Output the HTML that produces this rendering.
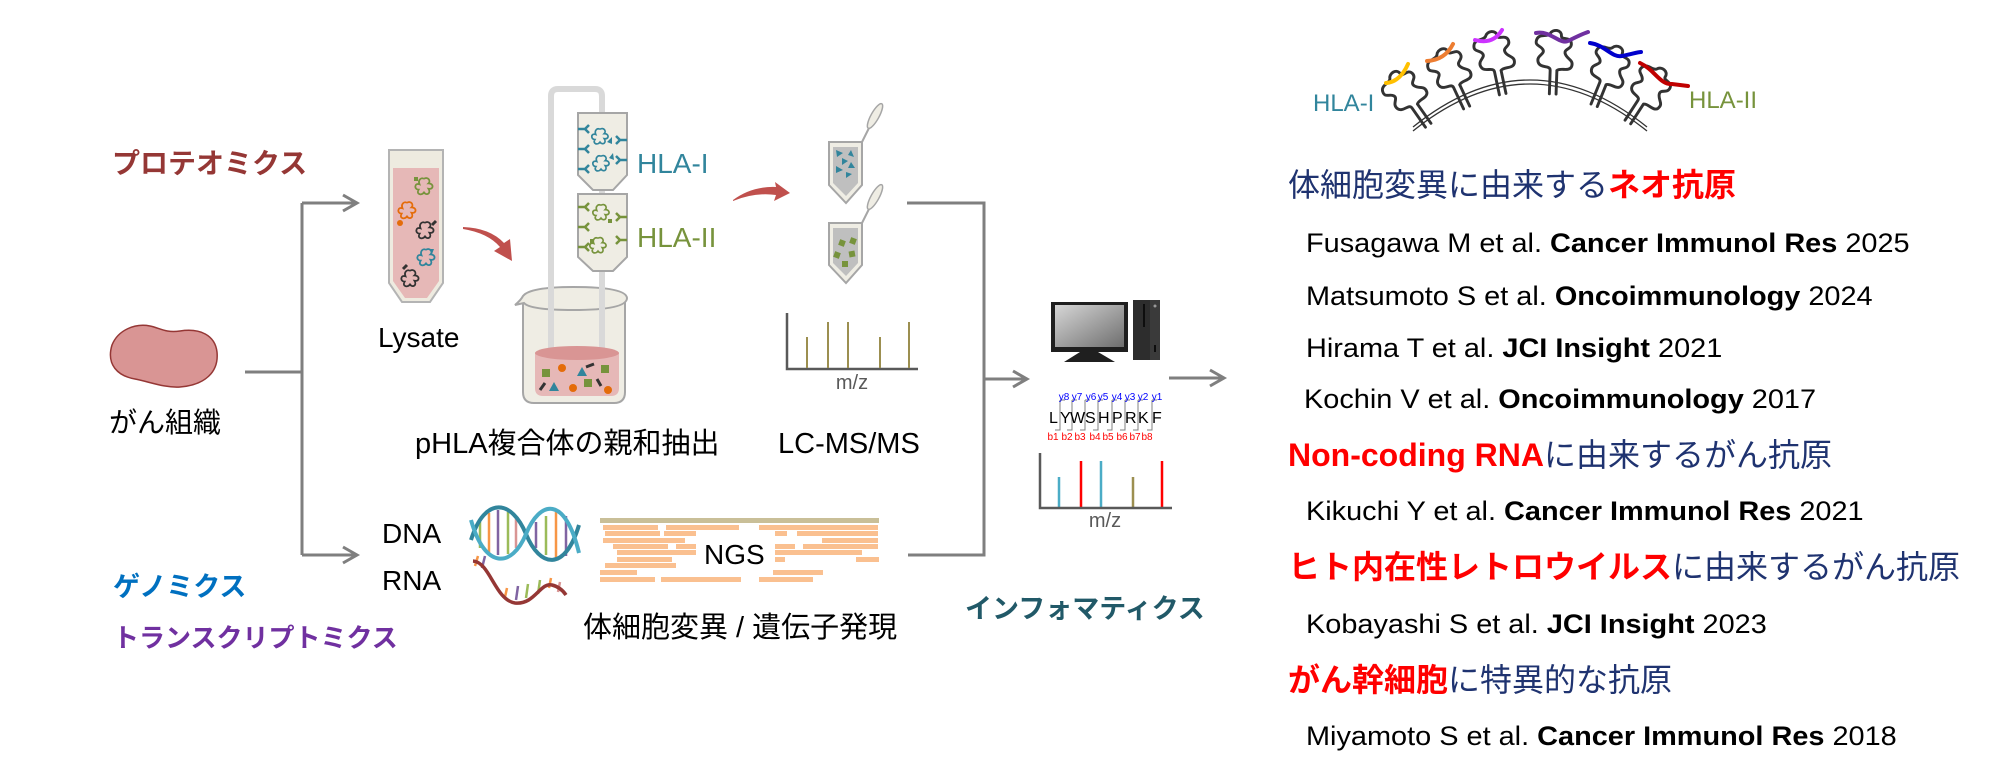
<!DOCTYPE html>
<html><head><meta charset="utf-8"><title>diagram</title>
<style>
html,body{margin:0;padding:0;background:#fff;width:2000px;height:780px;overflow:hidden}
svg{display:block}
text{font-family:"Liberation Sans","Noto Sans CJK JP",sans-serif}
</style></head><body>
<svg width="2000" height="780" viewBox="0 0 2000 780" xmlns="http://www.w3.org/2000/svg" xmlns:xlink="http://www.w3.org/1999/xlink">
<defs>
<path id="sp" d="M0,-9 C4,-12 8,-7 5,-4 C11,-4 11,3 5,2 C8,7 3,10 0,6 C-3,10 -9,8 -6,3 C-11,3 -11,-5 -5,-3 C-7,-8 -3,-11 0,-9" fill="none"/>
<path id="abL" d="M0,0 H7 M7,0 L11,-4 M7,0 L11,4" fill="none"/>
<path id="hla" d="M-3,12 C-3,7 -12,11 -14,5 C-16,-1 -8,-2 -10,-6 C-12,-10 -18,-9 -16,-15 C-14,-21 -6,-17 -4,-21 C-2,-25 6,-25 6,-19 C6,-15 14,-19 15,-13 C16,-7 8,-8 10,-3 C12,2 18,2 16,8 C14,13 6,9 3,12 M-3,12 L-3,33 M3,12 L3,33" fill="none"/>
<linearGradient id="scr" x1="0" y1="0" x2="1" y2="1"><stop offset="0" stop-color="#d6d6d6"/><stop offset="1" stop-color="#6e6e6e"/></linearGradient>
</defs>

<!-- connectors -->
<g stroke="#7f7f7f" stroke-width="3" fill="none">
<path d="M245,372 H302 M302,203 V555 M302,203 H357 M302,555 H357"/>
<path d="M343,195 L357,203 L343,211 M343,547 L357,555 L343,563"/>
<path d="M907,203 H984 V555 H908 M984,379 H1027"/>
<path d="M1013,371 L1027,379 L1013,387"/>
<path d="M1169,378 H1224 M1210,370 L1224,378 L1210,386"/>
</g>

<!-- left labels -->
<text x="112" y="173" font-size="28" font-weight="bold" fill="#953735">プロテオミクス</text>
<path d="M112,345 C118,330 135,323 150,326 C160,328 165,333 180,331 C200,328 215,335 217,352 C219,372 205,385 180,387 C165,388 150,382 135,379 C118,376 106,365 112,345 Z" fill="#d99594" stroke="#953735" stroke-width="1.5"/>
<text x="109" y="432" font-size="28" fill="#000">がん組織</text>
<text x="113" y="596" font-size="27" font-weight="bold" fill="#0070c0">ゲノミクス</text>
<text x="113" y="647" font-size="26" font-weight="bold" fill="#7030a0">トランスクリプトミクス</text>

<!-- lysate tube -->
<path d="M389,150 H443 V283 L430,302 H402 L389,283 Z" fill="#eeebe0" stroke="#b4b4b4" stroke-width="2"/>
<path d="M393,168 H439 V281 L427,298 H405 L393,281 Z" fill="#e6b8b7"/>
<g stroke-width="2">
<use xlink:href="#sp" transform="translate(424,187) scale(0.9)" stroke="#77933c"/>
<rect x="414" y="177" width="4" height="4" fill="#77933c"/>
<use xlink:href="#sp" transform="translate(407,211) scale(0.9)" stroke="#e46c0a"/>
<circle cx="400" cy="223" r="3" fill="#e46c0a"/>
<use xlink:href="#sp" transform="translate(425,231) scale(0.9)" stroke="#333"/>
<path d="M432,225 L436,221" stroke="#333" stroke-width="3"/>
<use xlink:href="#sp" transform="translate(426,258) scale(0.9)" stroke="#31859c"/>
<path d="M429,249 L434,249 L432,254 Z" fill="#31859c"/>
<use xlink:href="#sp" transform="translate(410,279) scale(0.9)" stroke="#333"/>
<path d="M403,269 L407,265" stroke="#333" stroke-width="3"/>
</g>
<text x="378" y="347" font-size="28">Lysate</text>

<!-- red arrows -->
<path d="M463,227 Q490,228 504,243 L510,239 L512,261 L494,251 L500,247 Q488,233 463,229 Z" fill="#c0504d"/>
<path d="M733,200 Q752,186 776,187 L775,182 L790,193 L774,201 L776,195 Q755,192 733,201 Z" fill="#c0504d"/>

<!-- beaker -->
<path d="M523,300 V392 Q523,403 534,403 H614 Q625,403 625,392 V300" fill="#efede4" stroke="#a6a6a6" stroke-width="2"/>
<path d="M515,305 Q521,300 523,296 Q530,287 573,287 Q626,287 627,298 Q627,310 573,310 Q530,310 524,303 Z" fill="#efede4" stroke="#a6a6a6" stroke-width="2"/>
<path d="M551,350 V96 Q551,89 558,89 H595 Q602,89 602,96 V350" fill="none" stroke="#d9d9d9" stroke-width="6"/>
<path d="M535,353 V388 Q535,396 543,396 H611 Q619,396 619,388 V353 Z" fill="#e6b8b7"/>
<ellipse cx="577" cy="353" rx="42" ry="7" fill="#d99594"/>
<rect x="542" y="369" width="8" height="8" fill="#77933c"/>
<circle cx="562" cy="368" r="4" fill="#e46c0a"/>
<path d="M577,376 L582,367 L587,376 Z" fill="#31859c"/>
<path d="M586,367 L594,364" stroke="#333" stroke-width="3"/>
<rect x="601" y="365" width="8" height="8" fill="#77933c"/>
<path d="M540,390 L545,383" stroke="#333" stroke-width="3"/>
<path d="M549,391 L554,382 L559,391 Z" fill="#31859c"/>
<circle cx="573" cy="388" r="4" fill="#e46c0a"/>
<rect x="584" y="379" width="8" height="8" fill="#77933c"/>
<path d="M597,379 L601,386" stroke="#333" stroke-width="3"/>
<circle cx="608" cy="390" r="4" fill="#e46c0a"/>

<!-- columns -->
<path d="M578,113 H627 V175 L613,190 H593 L578,175 Z" fill="#efede4" stroke="#a6a6a6" stroke-width="2"/>
<path d="M578,194 H627 V257 L613,271 H593 L578,257 Z" fill="#efede4" stroke="#a6a6a6" stroke-width="2"/>
<g stroke="#31859c" stroke-width="2.5">
<use xlink:href="#abL" transform="translate(578,129)"/>
<use xlink:href="#abL" transform="translate(578,149)"/>
<use xlink:href="#abL" transform="translate(578,169)"/>
<use xlink:href="#abL" transform="translate(627,140) scale(-1,1)"/>
<use xlink:href="#abL" transform="translate(627,160) scale(-1,1)"/>
<use xlink:href="#sp" transform="translate(600,137) scale(0.85)" stroke-width="2"/>
<use xlink:href="#sp" transform="translate(601,164) scale(0.85)" stroke-width="2"/>
</g>
<path d="M607,142 L612,137 L612,144 Z M609,158 L613,153 L614,160 Z" fill="#31859c"/>
<g stroke="#77933c" stroke-width="2.5">
<use xlink:href="#abL" transform="translate(578,207)"/>
<use xlink:href="#abL" transform="translate(578,227)"/>
<use xlink:href="#abL" transform="translate(578,247)"/>
<use xlink:href="#abL" transform="translate(627,217) scale(-1,1)"/>
<use xlink:href="#abL" transform="translate(627,240) scale(-1,1)"/>
<use xlink:href="#sp" transform="translate(601,213) scale(0.85)" stroke-width="2"/>
<use xlink:href="#sp" transform="translate(598,246) scale(0.85)" stroke-width="2"/>
</g>
<rect x="608" y="219" width="4" height="4" fill="#77933c"/>
<rect x="590" y="239" width="4" height="4" fill="#77933c"/>
<text x="637" y="173" font-size="28" fill="#31859c">HLA-I</text>
<text x="637" y="247" font-size="28" fill="#77933c">HLA-II</text>
<text x="415" y="453" font-size="29">pHLA複合体の親和抽出</text>

<!-- eppendorf tubes -->
<path d="M862,142 L869,128" stroke="#a6a6a6" stroke-width="2"/>
<ellipse cx="875" cy="116" rx="14" ry="4" transform="rotate(-61 875 116)" fill="#efede4" stroke="#a6a6a6" stroke-width="1.5"/>
<path d="M829,142 H862 V185 L846,203 L829,185 Z" fill="#efede4" stroke="#a6a6a6" stroke-width="2"/>
<path d="M833,147 H858 V183 L846,196 L833,183 Z" fill="#bfbfbf"/>
<g fill="#31859c">
<path d="M836,150 L843,153 L837,157 Z M851,150 L854,157 L848,155 Z M842,158 L848,161 L842,165 Z M851,162 L855,168 L848,168 Z M836,166 L843,170 L836,173 Z M846,172 L852,174 L846,178 Z"/>
</g>
<path d="M862,223 L869,209" stroke="#a6a6a6" stroke-width="2"/>
<ellipse cx="875" cy="197" rx="14" ry="4" transform="rotate(-61 875 197)" fill="#efede4" stroke="#a6a6a6" stroke-width="1.5"/>
<path d="M829,223 H862 V265 L846,283 L829,265 Z" fill="#efede4" stroke="#a6a6a6" stroke-width="2"/>
<path d="M833,228 H858 V263 L846,276 L833,263 Z" fill="#bfbfbf"/>
<g fill="#77933c">
<rect x="839" y="240" width="6" height="6" transform="rotate(20 842 243)"/>
<rect x="850" y="238" width="6" height="6" transform="rotate(20 853 241)"/>
<rect x="834" y="252" width="6" height="6" transform="rotate(20 837 255)"/>
<rect x="849" y="251" width="6" height="6" transform="rotate(-10 852 254)"/>
<rect x="842" y="261" width="6" height="6"/>
</g>

<!-- MS spectrum 1 -->
<path d="M787,313 V369 H918" fill="none" stroke="#595959" stroke-width="2.5"/>
<g stroke="#9c8f50" stroke-width="2">
<path d="M807,337 V368 M828,322 V368 M848,322 V368 M880,337 V368 M909,322 V368"/>
</g>
<text x="852" y="389" font-size="20" fill="#595959" text-anchor="middle">m/z</text>
<text x="778" y="453" font-size="29">LC-MS/MS</text>

<!-- DNA / RNA -->
<text x="382" y="543" font-size="28">DNA</text>
<text x="382" y="590" font-size="28">RNA</text>
<g stroke-width="2.5">
<path d="M480,522 V548" stroke="#9bbb59"/>
<path d="M489,513 V553" stroke="#f79646"/>
<path d="M498,510 V555" stroke="#8064a2"/>
<path d="M508,512 V554" stroke="#9bbb59"/>
<path d="M516,518 V548" stroke="#d99594"/>
<path d="M536,522 V548" stroke="#8064a2"/>
<path d="M546,516 V555" stroke="#9bbb59"/>
<path d="M556,512 V558" stroke="#f79646"/>
<path d="M566,516 V556" stroke="#8064a2"/>
</g>
<path d="M471,540 C485,495 512,500 526,534 S565,572 579,525" fill="none" stroke="#31859c" stroke-width="4"/>
<path d="M471,520 C485,570 512,568 526,534 S565,495 579,553" fill="none" stroke="#4bacc6" stroke-width="4"/>
<g stroke-width="2.5">
<path d="M478,556 L475,566" stroke="#f79646"/>
<path d="M485,556 L482,568" stroke="#8064a2"/>
<path d="M507,588 L505,597" stroke="#f79646"/>
<path d="M518,586 L516,600" stroke="#8064a2"/>
<path d="M528,584 L526,598" stroke="#9bbb59"/>
<path d="M540,580 L538,594" stroke="#9bbb59"/>
<path d="M551,578 L549,588" stroke="#f79646"/>
<path d="M560,582 L558,592" stroke="#d99594"/>
</g>
<path d="M473,561 C490,562 495,600 515,603 C535,605 540,582 552,585 C560,587 564,592 566,595" fill="none" stroke="#953735" stroke-width="3.5"/>

<!-- NGS reads -->
<rect x="600" y="518" width="279" height="5" fill="#c9bf98"/>
<g fill="#fac090">
<rect x="603" y="525" width="55" height="5"/><rect x="666" y="525" width="73" height="5"/><rect x="759" y="525" width="119" height="5"/>
<rect x="605" y="531" width="55" height="5"/><rect x="664" y="531" width="32" height="5"/><rect x="775" y="531" width="12" height="5"/><rect x="797" y="531" width="81" height="5"/>
<rect x="603" y="538" width="82" height="5"/><rect x="822" y="538" width="56" height="5"/>
<rect x="613" y="544" width="55" height="5"/><rect x="676" y="544" width="20" height="5"/><rect x="775" y="544" width="20" height="5"/><rect x="803" y="544" width="75" height="5"/>
<rect x="617" y="550" width="79" height="5"/><rect x="775" y="550" width="87" height="5"/>
<rect x="617" y="557" width="55" height="5"/><rect x="775" y="557" width="10" height="5"/><rect x="856" y="557" width="23" height="5"/>
<rect x="605" y="563" width="71" height="5"/>
<rect x="600" y="570" width="37" height="5"/><rect x="773" y="570" width="50" height="5"/>
<rect x="600" y="577" width="55" height="5"/><rect x="661" y="577" width="80" height="5"/><rect x="759" y="577" width="54" height="5"/>
</g>
<text x="704" y="564" font-size="28">NGS</text>
<text x="583" y="637" font-size="29">体細胞変異 / 遺伝子発現</text>

<!-- computer -->
<rect x="1051" y="302" width="77" height="50" fill="#1f1f1f"/>
<rect x="1055" y="305" width="69" height="42" fill="url(#scr)"/>
<path d="M1080,352 H1098 L1115,362 H1064 Z" fill="#1f1f1f"/>
<rect x="1133" y="300" width="27" height="60" fill="#2d2d2d"/>
<rect x="1150" y="300" width="10" height="60" fill="#3a3a3a"/>
<path d="M1144,304 V327" stroke="#0d0d0d" stroke-width="2"/>
<circle cx="1155" cy="306" r="1.5" fill="#999"/>
<path d="M1155,345 V352" stroke="#0d0d0d" stroke-width="2"/>

<!-- peptide -->
<g stroke="#808080" stroke-width="1" fill="none">
<path d="M1060,400 H1065 M1060,400 V430 H1055"/>
<path d="M1072,400 H1077 M1072,400 V430 H1067"/>
<path d="M1085,400 H1090 M1085,400 V430 H1080"/>
<path d="M1098,400 H1103 M1098,400 V430 H1093"/>
<path d="M1112,400 H1117 M1112,400 V430 H1107"/>
<path d="M1125,400 H1130 M1125,400 V430 H1120"/>
<path d="M1138,400 H1143 M1138,400 V430 H1133"/>
<path d="M1152,400 H1157 M1152,400 V430 H1147"/>
</g>
<g font-size="16" fill="#000">
<text x="1049" y="423">L</text><text x="1060" y="423">Y</text><text x="1070" y="423">W</text><text x="1085" y="423">S</text><text x="1098" y="423">H</text><text x="1112" y="423">P</text><text x="1125" y="423">R</text><text x="1138" y="423">K</text><text x="1152" y="423">F</text>
</g>
<g font-size="10" fill="#0000ff" text-anchor="middle">
<text x="1064" y="400">y8</text><text x="1077" y="400">y7</text><text x="1091" y="400">y6</text><text x="1103" y="400">y5</text><text x="1117" y="400">y4</text><text x="1130" y="400">y3</text><text x="1143" y="400">y2</text><text x="1157" y="400">y1</text>
</g>
<g font-size="10" fill="#ff0000" text-anchor="middle">
<text x="1053" y="440">b1</text><text x="1067" y="440">b2</text><text x="1080" y="440">b3</text><text x="1095" y="440">b4</text><text x="1108" y="440">b5</text><text x="1122" y="440">b6</text><text x="1135" y="440">b7</text><text x="1147" y="440">b8</text>
</g>

<!-- MS spectrum 2 -->
<g stroke-width="2.5">
<path d="M1059,477 V507" stroke="#4bacc6"/>
<path d="M1081,461 V507" stroke="#ff0000"/>
<path d="M1101,461 V507" stroke="#4bacc6"/>
<path d="M1133,477 V507" stroke="#9c8f50"/>
<path d="M1162,461 V507" stroke="#ff0000"/>
</g>
<path d="M1040,453 V508 H1172" fill="none" stroke="#595959" stroke-width="2.5"/>
<text x="1105" y="527" font-size="20" fill="#595959" text-anchor="middle">m/z</text>
<text x="965" y="618" font-size="27" font-weight="bold" fill="#215968">インフォマティクス</text>

<!-- top right HLA cluster -->
<path d="M1413,127 Q1530,33 1647,127" fill="none" stroke="#333" stroke-width="1.3"/>
<path d="M1413,131 Q1530,37 1647,131" fill="none" stroke="#333" stroke-width="1.3"/>
<g stroke="#333" stroke-width="2.6" stroke-linecap="round">
<use xlink:href="#hla" transform="translate(1407,95) rotate(-35) scale(1.12)"/>
<use xlink:href="#hla" transform="translate(1451,74) rotate(-25) scale(1.12)"/>
<use xlink:href="#hla" transform="translate(1495,58) rotate(-12) scale(1.12)"/>
<use xlink:href="#hla" transform="translate(1554,57) rotate(2) scale(1.12)"/>
<use xlink:href="#hla" transform="translate(1608,71) rotate(22) scale(1.12)"/>
<use xlink:href="#hla" transform="translate(1648,91) rotate(33) scale(1.12)"/>
</g>
<g fill="none" stroke-width="4" stroke-linecap="round">
<path d="M1386,83 Q1400,82 1408,64" stroke="#ffc000"/>
<path d="M1427,61 Q1445,60 1453,44" stroke="#ed7d31"/>
<path d="M1475,40 Q1493,45 1502,30" stroke="#cc33ff"/>
<path d="M1536,33 C1550,30 1560,45 1568,41 S1585,33 1588,32" stroke="#7030a0"/>
<path d="M1590,43 C1605,45 1612,58 1622,56 S1638,52 1641,52" stroke="#0000cc"/>
<path d="M1640,63 C1655,70 1660,85 1672,84 L1688,86" stroke="#c00000"/>
</g>
<text x="1313" y="111" font-size="24" fill="#31859c">HLA-I</text>
<text x="1689" y="108" font-size="24" fill="#77933c">HLA-II</text>

<!-- right text -->
<text x="1288" y="196" font-size="32" fill="#1f3370">体細胞変異に由来する<tspan fill="#ff0000" font-weight="bold">ネオ抗原</tspan></text>
<g font-size="27" fill="#000">
<text transform="translate(1306,252) scale(1.07,1)">Fusagawa M et al. <tspan font-weight="bold">Cancer Immunol Res</tspan> 2025</text>
<text transform="translate(1306,305) scale(1.07,1)">Matsumoto S et al. <tspan font-weight="bold">Oncoimmunology</tspan> 2024</text>
<text transform="translate(1306,357) scale(1.07,1)">Hirama T et al. <tspan font-weight="bold">JCI Insight</tspan> 2021</text>
<text transform="translate(1304,408) scale(1.07,1)">Kochin V et al. <tspan font-weight="bold">Oncoimmunology</tspan> 2017</text>
<text transform="translate(1306,520) scale(1.07,1)">Kikuchi Y et al. <tspan font-weight="bold">Cancer Immunol Res</tspan> 2021</text>
<text transform="translate(1306,633) scale(1.07,1)">Kobayashi S et al. <tspan font-weight="bold">JCI Insight</tspan> 2023</text>
<text transform="translate(1306,745) scale(1.07,1)">Miyamoto S et al. <tspan font-weight="bold">Cancer Immunol Res</tspan> 2018</text>
</g>
<text x="1288" y="466" font-size="32" fill="#1f3370"><tspan fill="#ff0000" font-weight="bold">Non-coding RNA</tspan>に由来するがん抗原</text>
<text x="1288" y="578" font-size="32" fill="#1f3370"><tspan fill="#ff0000" font-weight="bold">ヒト内在性レトロウイルス</tspan>に由来するがん抗原</text>
<text x="1288" y="691" font-size="32" fill="#1f3370"><tspan fill="#ff0000" font-weight="bold">がん幹細胞</tspan>に特異的な抗原</text>
</svg>
</body></html>
